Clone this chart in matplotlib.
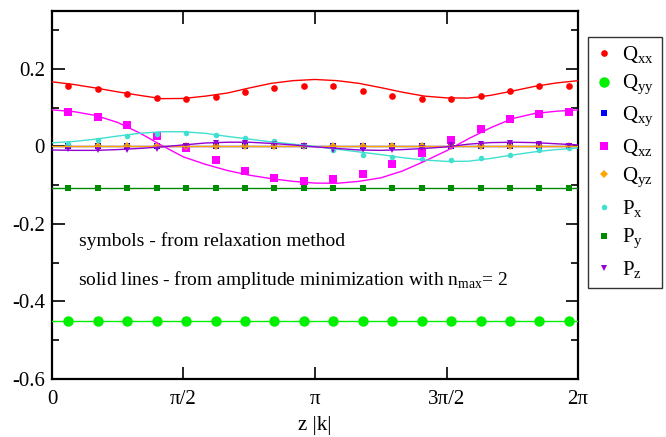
import matplotlib as mpl
mpl.use('Agg')
import matplotlib.pyplot as plt
import numpy as np

plt.rcParams['font.family'] = ['Liberation Serif', 'DejaVu Serif']
plt.rcParams['mathtext.fontset'] = 'custom'
plt.rcParams['mathtext.rm'] = 'Liberation Serif'

# symbol positions (relaxation method) and line grid (amplitude minimization)
z_pts = np.linspace(0.195, 6.174, 18)
z_line = np.linspace(0, 2 * np.pi, 25)

# symbols - relaxation method
Qxx_pts = [0.157, 0.148, 0.136, 0.126, 0.123, 0.129, 0.140, 0.152, 0.157,
           0.155, 0.144, 0.131, 0.123, 0.123, 0.131, 0.144, 0.155, 0.157]
Qyy_pts = [-0.45] * 18
Qxy_pts = [0.0] * 18
Qxz_pts = [0.088, 0.076, 0.055, 0.027, -0.004, -0.036, -0.063, -0.082, -0.088,
           -0.085, -0.070, -0.046, -0.016, 0.016, 0.046, 0.070, 0.085, 0.089]
Qyz_pts = [0.0] * 18
Px_pts = [0.006, 0.018, 0.027, 0.033, 0.034, 0.030, 0.023, 0.015, 0.004,
          -0.010, -0.021, -0.028, -0.033, -0.034, -0.029, -0.021, -0.010, -0.003]
Py_pts = [-0.107] * 18
Pz_pts = [-0.006, -0.009, -0.009, -0.006, 0.001, 0.008, 0.009, 0.007, 0.000,
          -0.008, -0.010, -0.009, -0.004, 0.003, 0.007, 0.009, 0.007, 0.000]

# solid lines - amplitude minimization, n_max = 2
Qxx_line = [0.167, 0.160, 0.151, 0.141, 0.132, 0.1235, 0.124, 0.130, 0.138,
            0.151, 0.163, 0.170, 0.173, 0.170, 0.163, 0.152, 0.140, 0.130,
            0.1255, 0.125, 0.132, 0.143, 0.155, 0.164, 0.170]
Qyy_line = [-0.45] * 25
Qxy_line = [0.0] * 25
Qxz_line = [0.0945, 0.090, 0.080, 0.062, 0.035, 0.003, -0.027, -0.046, -0.062,
            -0.074, -0.083, -0.090, -0.0945, -0.095, -0.090, -0.081, -0.063,
            -0.038, -0.011, 0.020, 0.048, 0.072, 0.085, 0.091, 0.0945]
Qyz_line = [0.0] * 25
Px_line = [0.0095, 0.013, 0.019, 0.027, 0.034, 0.038, 0.038, 0.034, 0.026,
           0.019, 0.012, 0.006, 0.000, -0.007, -0.014, -0.021, -0.029, -0.035,
           -0.0385, -0.038, -0.031, -0.022, -0.014, -0.008, -0.004]
Py_line = [-0.107] * 25
Pz_line = [-0.009, -0.010, -0.010, -0.008, -0.005, -0.001, 0.004, 0.009, 0.011,
           0.011, 0.008, 0.004, -0.001, -0.005, -0.009, -0.010, -0.008, -0.005,
           -0.001, 0.006, 0.010, 0.011, 0.010, 0.007, 0.004]

series = [
    (r'Q$_{\mathrm{xx}}$', Qxx_pts, Qxx_line, '#ff0000', 'o', 4.8),
    (r'Q$_{\mathrm{yy}}$', Qyy_pts, Qyy_line, '#00f000', 'o', 7.5),
    (r'Q$_{\mathrm{xy}}$', Qxy_pts, Qxy_line, '#0000ff', 's', 3.8),
    (r'Q$_{\mathrm{xz}}$', Qxz_pts, Qxz_line, '#ff00ff', 's', 5.6),
    (r'Q$_{\mathrm{yz}}$', Qyz_pts, Qyz_line, '#ffa500', 'D', 4.2),
    (r'P$_{\mathrm{x}}$', Px_pts, Px_line, '#40e0d0', 'o', 4.0),
    (r'P$_{\mathrm{y}}$', Py_pts, Py_line, '#008b00', 's', 4.0),
    (r'P$_{\mathrm{z}}$', Pz_pts, Pz_line, '#9400d3', 'v', 4.6),
]

fig = plt.figure(figsize=(6.66, 4.37), dpi=100)
ax = fig.add_axes([0.078, 0.133, 0.790, 0.842])

for label, pts, line, col, mk, ms in series:
    ax.plot(z_pts, pts, linestyle='none', marker=mk, markersize=ms,
            color=col, markeredgewidth=0, label=label, zorder=2)
for label, pts, line, col, mk, ms in series:
    ax.plot(z_line, line, color=col, linewidth=1.0, zorder=3)

ax.set_xlim(0, 2 * np.pi)
ax.set_ylim(-0.6, 0.35)
ax.set_xticks([0, np.pi / 2, np.pi, 3 * np.pi / 2, 2 * np.pi])
ax.set_xticklabels(['0', 'π/2', 'π', '3π/2', '2π'])
ax.set_yticks([-0.6, -0.4, -0.2, 0, 0.2])
ax.set_yticklabels(['-0.6', '-0.4', '-0.2', '0', '0.2'])
ax.set_yticks(np.arange(-0.5, 0.35, 0.2), minor=True)
ax.tick_params(which='both', direction='in', top=True, right=True,
               labelsize=15, width=1.2)
ax.tick_params(which='major', length=9)
ax.tick_params(which='minor', length=5)
ax.tick_params(axis='x', pad=8)
ax.tick_params(axis='y', pad=5)
for sp in ax.spines.values():
    sp.set_linewidth(1.6)

ax.set_xlabel('z |k|', fontsize=15, labelpad=5)

ax.text(0.32, -0.245, 'symbols - from relaxation method', fontsize=14,
        va='center', ha='left')
ax.text(0.31, -0.345,
        r'solid lines - from amplitude minimization with n$_{\mathrm{max}}$= 2',
        fontsize=14, va='center', ha='left')

leg = fig.legend(loc='upper left', bbox_to_anchor=(0.883, 0.916),
                 fontsize=15, frameon=True, fancybox=False, edgecolor='black',
                 handlelength=0.8, handletextpad=0.5, labelspacing=0.37,
                 borderpad=0.35, borderaxespad=0, numpoints=1)
leg.get_frame().set_linewidth(1.0)

fig.savefig('out.png', dpi=100)
